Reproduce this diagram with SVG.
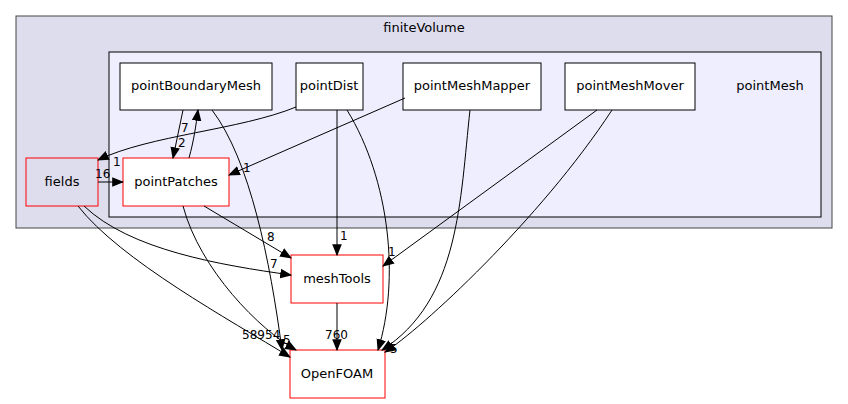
<svg xmlns="http://www.w3.org/2000/svg" width="848" height="404" viewBox="0 0 848 404">
<style>
text{font-family:"DejaVu Sans",sans-serif;font-size:13px;fill:#000}
.n{fill:#fff;stroke:#000;stroke-width:1}
.r{fill:#fff;stroke:#f00;stroke-width:1}
.e{fill:none;stroke:#000;stroke-width:1;marker-end:url(#a)}
.l{font-size:12px}
</style>
<defs><marker id="a" viewBox="0 0 10 10" refX="9" refY="5" markerWidth="12" markerHeight="12" markerUnits="userSpaceOnUse" orient="auto"><path d="M0,1L10,5L0,9z" fill="#000"/></marker></defs>
<g id="finiteVolume"><rect x="16" y="16" width="816" height="212" fill="#ddddee" stroke="#444"/><text x="424" y="32" text-anchor="middle">finiteVolume</text></g>
<g id="pointMesh"><rect x="109" y="52" width="712" height="165" fill="#eeeeff" stroke="#000"/><text x="770" y="90" text-anchor="middle">pointMesh</text></g>
<g id="fields"><rect x="26" y="158" width="72" height="48" fill="#ddddee" stroke="#f00"/><text x="62" y="186" text-anchor="middle">fields</text></g>
<g id="pointPatches"><rect class="r" x="123" y="158" width="106" height="48"/><text x="176" y="186" text-anchor="middle">pointPatches</text></g>
<g id="pointBoundaryMesh"><rect class="n" x="120" y="63" width="152" height="47"/><text x="196" y="90" text-anchor="middle">pointBoundaryMesh</text></g>
<g id="pointDist"><rect class="n" x="296" y="63" width="67" height="47"/><text x="329" y="90" text-anchor="middle">pointDist</text></g>
<g id="pointMeshMapper"><rect class="n" x="403" y="63" width="138" height="47"/><text x="472" y="90" text-anchor="middle">pointMeshMapper</text></g>
<g id="pointMeshMover"><rect class="n" x="565" y="63" width="130" height="47"/><text x="630" y="90" text-anchor="middle">pointMeshMover</text></g>
<g id="meshTools"><rect class="r" x="291" y="255" width="92" height="48"/><text x="337" y="283" text-anchor="middle">meshTools</text></g>
<g id="OpenFOAM"><rect class="r" x="290" y="350" width="95" height="48"/><text x="337" y="378" text-anchor="middle">OpenFOAM</text></g>
<g id="edges">
<path class="e" d="M183,110L173,158"/><text class="l" x="178" y="147">2</text>
<path class="e" d="M189,158C194,140 196,125 198,110"/><text class="l" x="181" y="132">7</text>
<path class="e" d="M212,110C250,160 270,260 282,350"/><text class="l" x="283" y="344">5</text>
<path class="e" d="M296,107C240,130 150,135 98,160"/><text class="l" x="113" y="166">1</text>
<path class="e" d="M337,110L337,255"/><text class="l" x="340" y="240">1</text>
<path class="e" d="M347,110C390,180 400,280 378,350"/>
<path class="e" d="M405,98L229,175"/><text class="l" x="243" y="172">1</text>
<path class="e" d="M470,110C460,200 460,300 382,350"/>
<path class="e" d="M597,110L383,266"/><text class="l" x="388" y="256">1</text>
<path class="e" d="M612,110C540,220 420,330 385,352"/><text class="l" x="390" y="353">5</text>
<path class="e" d="M98,182L123,182"/><text class="l" x="95" y="178">16</text>
<path class="e" d="M84,206C130,250 220,265 291,275"/><text class="l" x="270" y="268">7</text>
<path class="e" d="M78,206C120,260 230,320 290,357"/><text class="l" x="242" y="339">589</text>
<path class="e" d="M204,206L291,258"/><text class="l" x="267" y="241">8</text>
<path class="e" d="M183,206C200,270 260,330 296,350"/><text class="l" x="265" y="339">54</text>
<path class="e" d="M337,303L337,350"/><text class="l" x="325" y="339">760</text>
</g>
</svg>
